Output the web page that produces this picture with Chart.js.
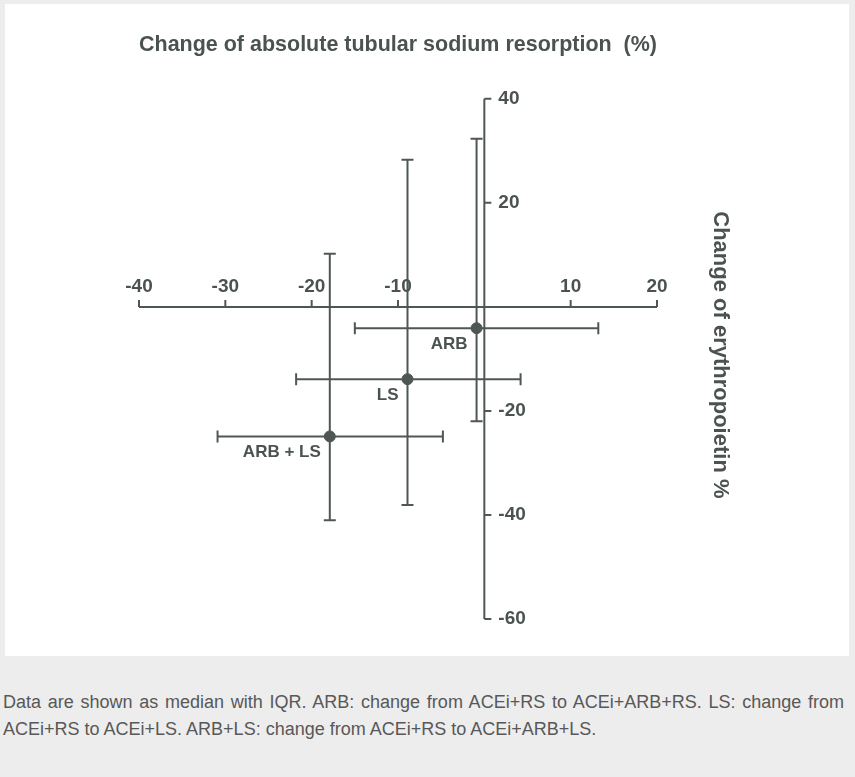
<!DOCTYPE html>
<html>
<head>
<meta charset="utf-8">
<script src="https://cdn.jsdelivr.net/npm/chart.js@4.4.1/dist/chart.umd.min.js"></script>
<style>
  html, body { margin: 0; padding: 0; }
  body { width: 855px; height: 777px; background: #ededed; position: relative; overflow: hidden; }
  #panel { position: absolute; left: 5px; top: 4px; width: 844px; height: 652px; background: #fff; }
  #chart { position: absolute; left: 0; top: 0; }
  #note {
    position: absolute; left: 3px; top: 689px; width: 841px;
    font: 18px 'Liberation Sans', Arial, sans-serif;
    line-height: 27px; color: #585858;
  }
  #note .first { text-align: justify; text-align-last: justify; white-space: nowrap; }
</style>
</head>
<body>
<div id="panel"></div>
<canvas id="chart" width="855" height="660"></canvas>
<div id="note">
  <div class="first">Data are shown as median with IQR. ARB: change from ACEi+RS to ACEi+ARB+RS. LS: change from</div>
  <div>ACEi+RS to ACEi+LS. ARB+LS: change from ACEi+RS to ACEi+ARB+LS.</div>
</div>
<script>
// median and interquartile range per intervention
const groups = ['ARB', 'LS', 'ARB + LS'];
const sodiumMedian = [-0.9, -8.9, -17.9];
const sodiumLow = [-15.0, -21.8, -30.9];
const sodiumHigh = [13.2, 4.2, -4.8];
const epoMedian = [-4.1, -13.9, -24.9];
const epoLow = [-22.0, -38.1, -41.0];
const epoHigh = [32.3, 28.3, 10.2];

const xTicks = [-40, -30, -20, -10, 10, 20];
const yTicks = [40, 20, -20, -40, -60];

const markColor = '#4f5755';
const textColor = '#4b5351';
const fontFamily = '"Liberation Sans", Arial, sans-serif';

// axes cross at the origin, ticks on the inner side, labels above / right
const crossAxes = {
  id: 'crossAxes',
  beforeDatasetsDraw(chart) {
    const { ctx, chartArea, scales: { x, y } } = chart;
    const x0 = x.getPixelForValue(0);
    const y0 = y.getPixelForValue(0);
    ctx.save();
    ctx.strokeStyle = markColor;
    ctx.lineWidth = 2;
    ctx.beginPath();
    ctx.moveTo(x.getPixelForValue(x.min), y0);
    ctx.lineTo(x.getPixelForValue(x.max), y0);
    ctx.moveTo(x0, y.getPixelForValue(y.min));
    ctx.lineTo(x0, y.getPixelForValue(y.max));
    xTicks.forEach(v => {
      const px = x.getPixelForValue(v);
      ctx.moveTo(px, y0);
      ctx.lineTo(px, y0 - 7);
    });
    yTicks.forEach(v => {
      const py = y.getPixelForValue(v);
      ctx.moveTo(x0, py);
      ctx.lineTo(x0 + 7, py);
    });
    ctx.stroke();

    ctx.fillStyle = textColor;
    ctx.font = 'bold 19px ' + fontFamily;
    ctx.textAlign = 'center';
    ctx.textBaseline = 'alphabetic';
    xTicks.forEach(v => ctx.fillText(String(v), x.getPixelForValue(v), y0 - 15));
    ctx.textAlign = 'left';
    ctx.textBaseline = 'middle';
    yTicks.forEach(v => ctx.fillText(String(v), x0 + 14, y.getPixelForValue(v)));

    ctx.font = 'bold 22px ' + fontFamily;
    ctx.translate(chartArea.right + 63, (chartArea.top + chartArea.bottom) / 2 - 4);
    ctx.rotate(Math.PI / 2);
    ctx.textAlign = 'center';
    ctx.fillText('Change of erythropoietin %', 0, 0);
    ctx.restore();
  }
};

// group names beside each median point
const groupLabels = {
  id: 'groupLabels',
  afterDatasetsDraw(chart) {
    const { ctx } = chart;
    const meta = chart.getDatasetMeta(chart.data.datasets.length - 1);
    ctx.save();
    ctx.fillStyle = textColor;
    ctx.font = 'bold 17px ' + fontFamily;
    ctx.textAlign = 'right';
    ctx.textBaseline = 'middle';
    meta.data.forEach((pt, i) => ctx.fillText(groups[i], pt.x - 9, pt.y + 16));
    ctx.restore();
  }
};

function whisker(points, rotation) {
  return {
    data: points,
    showLine: true,
    borderColor: markColor,
    borderWidth: 2,
    pointStyle: 'line',
    rotation: rotation,
    pointRadius: 6,
    pointHoverRadius: 6,
    pointBorderWidth: 2,
    pointBorderColor: markColor
  };
}

const datasets = [];
groups.forEach((g, i) => {
  datasets.push(whisker([{ x: sodiumLow[i], y: epoMedian[i] }, { x: sodiumHigh[i], y: epoMedian[i] }], 90));
  datasets.push(whisker([{ x: sodiumMedian[i], y: epoLow[i] }, { x: sodiumMedian[i], y: epoHigh[i] }], 0));
});
datasets.push({
  data: groups.map((g, i) => ({ x: sodiumMedian[i], y: epoMedian[i] })),
  pointRadius: 5.5,
  pointHoverRadius: 5.5,
  backgroundColor: markColor,
  borderColor: markColor
});

new Chart(document.getElementById('chart'), {
  type: 'scatter',
  data: { datasets },
  plugins: [crossAxes, groupLabels],
  options: {
    responsive: false,
    animation: false,
    events: [],
    layout: { padding: { top: 22, left: 139, right: 198, bottom: 41 } },
    scales: {
      x: { type: 'linear', min: -40, max: 20, display: false },
      y: { type: 'linear', min: -60, max: 40, display: false }
    },
    plugins: {
      legend: { display: false },
      tooltip: { enabled: false },
      title: {
        display: true,
        text: 'Change of absolute tubular sodium resorption  (%)',
        color: textColor,
        font: { family: fontFamily, size: 21.5, weight: 'bold' },
        padding: { top: 10, bottom: 41 }
      }
    }
  }
});
</script>
</body>
</html>
